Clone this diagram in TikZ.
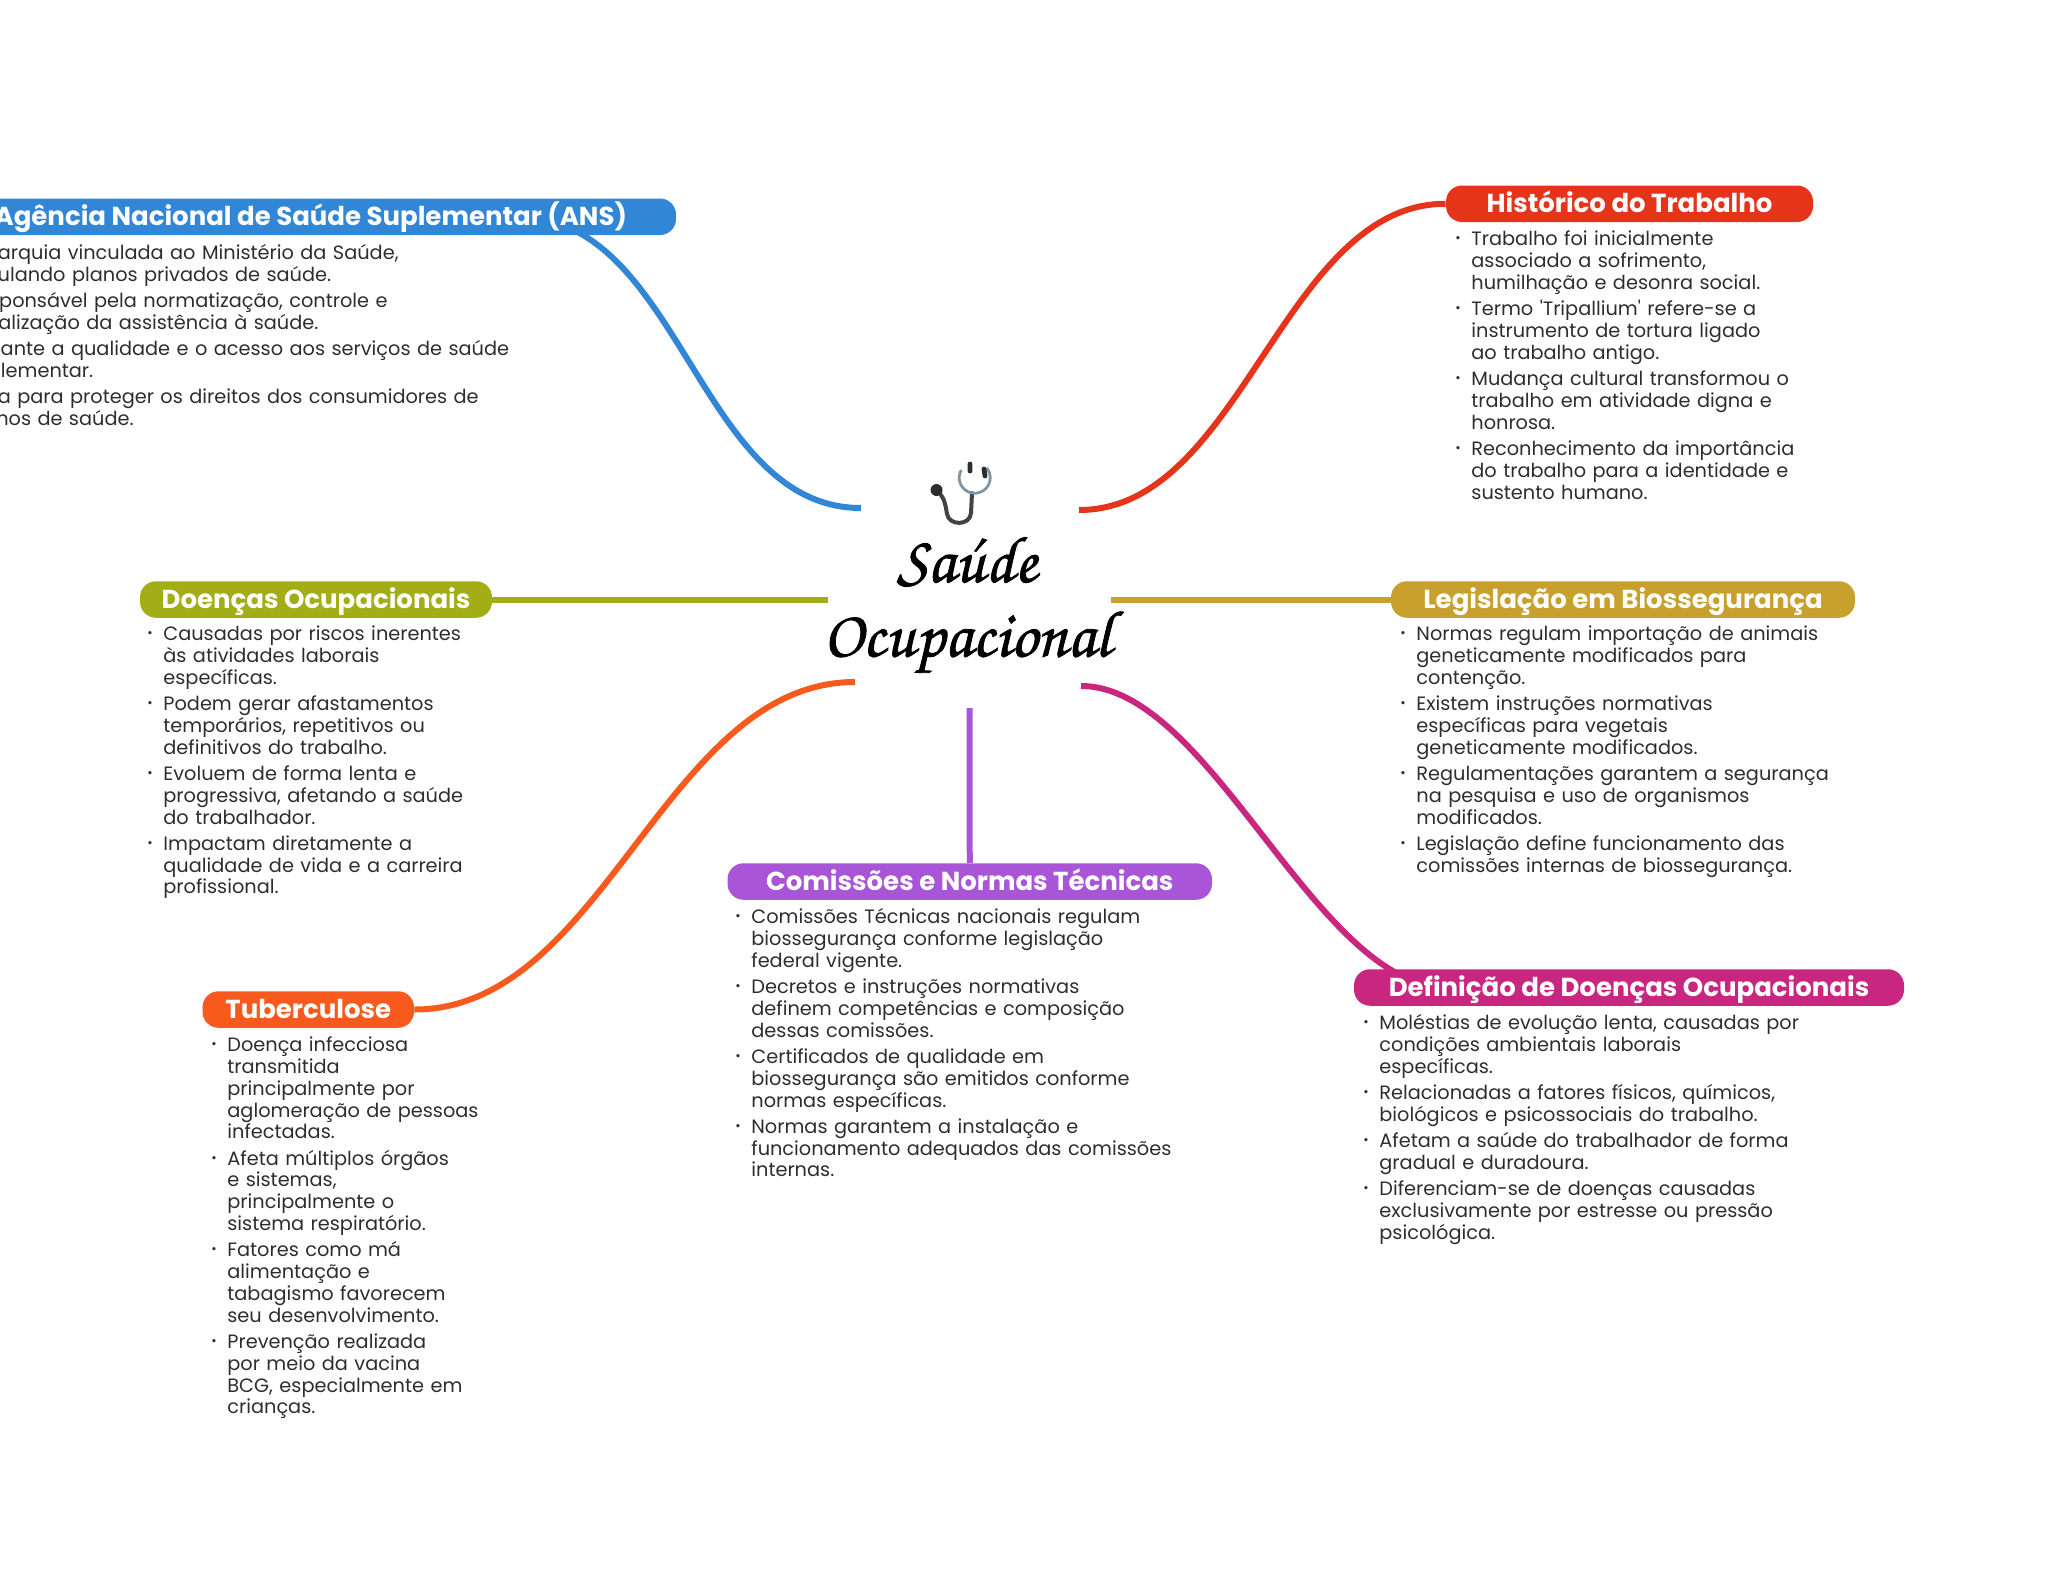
\documentclass[tikz,border=0pt]{standalone}
\usepackage{fontspec}
\setmainfont{Poppins}
\newfontfamily\titlefont[FakeBold=1.2]{TeX Gyre Chorus}
\usetikzlibrary{backgrounds}
\definecolor{ansblue}{HTML}{3286D6}
\definecolor{hisred}{HTML}{E5341A}
\definecolor{leggold}{HTML}{C8A02E}
\definecolor{dfnpink}{HTML}{C9267F}
\definecolor{compurple}{HTML}{A855D8}
\definecolor{tuborange}{HTML}{F85A1E}
\definecolor{doeolive}{HTML}{A3AD16}
\definecolor{bodygray}{HTML}{2D2D2D}
\definecolor{scopegray}{HTML}{7F95A3}
\newcommand{\itm}[1]{\noindent\makebox[8pt][l]{\raisebox{1.5pt}{\fontsize{6.5pt}{6.5pt}\selectfont\textbullet}}\parbox[t]{\dimexpr\linewidth-8pt}{\raggedright\strut #1\strut}\par\vspace{1.25pt}}
\tikzset{
  pill/.style={fill=#1,text=white,rounded corners=8pt,inner sep=0pt,minimum height=18.25pt,text height=10.6pt,text depth=1.6pt,font=\fontsize{13pt}{15pt}\selectfont\bfseries},
  listbox/.style={anchor=north west,inner sep=0pt,text width=300pt,text=bodygray,font=\fontsize{9.66pt}{10.9pt}\selectfont},
  branch/.style={line width=3pt,draw=#1}
}
\begin{document}
\begin{tikzpicture}[x=.5pt,y=-.5pt]
\useasboundingbox (0,0) rectangle (2048,1569);
\clip (0,0) rectangle (2048,1569);

\coordinate (Cans) at (861,508);
\coordinate (Chis) at (1079,510);
\coordinate (Cdoe) at (828,599.5);
\coordinate (Cleg) at (1111,599.5);
\coordinate (Ctub) at (855,682);
\coordinate (Cdfn) at (1081,686);
\coordinate (Ccom) at (969.5,708);
\coordinate (Ians) at (518,217);
\coordinate (Idfn) at (1446,987);

\node[align=center,font=\fontsize{33pt}{37.2pt}\selectfont\titlefont] (title) at (967,605) {Saúde\\Ocupacional};

\node[pill=ansblue,minimum width=365.2pt] (ans) at (310.8,216.75) {Agência Nacional de Saúde Suplementar (ANS)};
\node[pill=hisred,minimum width=183.5pt] (his) at (1629.5,203.75) {Histórico do Trabalho};
\node[pill=leggold,minimum width=232pt] (leg) at (1623,599.5) {Legislação em Biossegurança};
\node[pill=dfnpink,minimum width=275pt] (dfn) at (1629,987.5) {Definição de Doenças Ocupacionais};
\node[pill=compurple,minimum width=242.25pt] (com) at (969.75,881.5) {Comissões e Normas Técnicas};
\node[pill=tuborange,minimum width=105.75pt] (tub) at (308.25,1009.5) {Tuberculose};
\node[pill=doeolive,minimum width=176pt] (doe) at (316,599.5) {Doenças Ocupacionais};

\begin{scope}[on background layer]
\draw[branch=ansblue] (Cans) .. controls +(-163,0) and +(163,0) .. (Ians);
\draw[branch=hisred] (Chis) .. controls +(163,0) and +(-163,0) .. (his.west);
\draw[branch=doeolive] (Cdoe) -- (doe.east);
\draw[branch=leggold] (Cleg) -- (leg.west);
\draw[branch=tuborange] (Ctub) .. controls +(-190,0) and +(190,0) .. (tub.east);
\draw[branch=dfnpink] (Cdfn) .. controls +(130,0) and +(-130,0) .. (Idfn);
\draw[branch=compurple] (Ccom) -- (com.north);
\end{scope}

\node[listbox] (ansl) at (-51,244) {
\itm{Autarquia vinculada ao Ministério da Saúde,\\regulando planos privados de saúde.}
\itm{Responsável pela normatização, controle e\\fiscalização da assistência à saúde.}
\itm{Garante a qualidade e o acesso aos serviços de saúde\\suplementar.}
\itm{Atua para proteger os direitos dos consumidores de\\planos de saúde.}};

\node[listbox] (hisl) at (1455,230) {
\itm{Trabalho foi inicialmente\\associado a sofrimento,\\humilhação e desonra social.}
\itm{Termo \textquotesingle Tripallium\textquotesingle{} refere-se a\\instrumento de tortura ligado\\ao trabalho antigo.}
\itm{Mudança cultural transformou o\\trabalho em atividade digna e\\honrosa.}
\itm{Reconhecimento da importância\\do trabalho para a identidade e\\sustento humano.}};

\node[listbox] (legl) at (1400,625) {
\itm{Normas regulam importação de animais\\geneticamente modificados para\\contenção.}
\itm{Existem instruções normativas\\específicas para vegetais\\geneticamente modificados.}
\itm{Regulamentações garantem a segurança\\na pesquisa e uso de organismos\\modificados.}
\itm{Legislação define funcionamento das\\comissões internas de biossegurança.}};

\node[listbox] (dfnl) at (1363,1014) {
\itm{Moléstias de evolução lenta, causadas por\\condições ambientais laborais\\específicas.}
\itm{Relacionadas a fatores físicos, químicos,\\biológicos e psicossociais do trabalho.}
\itm{Afetam a saúde do trabalhador de forma\\gradual e duradoura.}
\itm{Diferenciam-se de doenças causadas\\exclusivamente por estresse ou pressão\\psicológica.}};

\node[listbox] (coml) at (735,908) {
\itm{Comissões Técnicas nacionais regulam\\biossegurança conforme legislação\\federal vigente.}
\itm{Decretos e instruções normativas\\definem competências e composição\\dessas comissões.}
\itm{Certificados de qualidade em\\biossegurança são emitidos conforme\\normas específicas.}
\itm{Normas garantem a instalação e\\funcionamento adequados das comissões\\internas.}};

\node[listbox] (tubl) at (211,1036) {
\itm{Doença infecciosa\\transmitida\\principalmente por\\aglomeração de pessoas\\infectadas.}
\itm{Afeta múltiplos órgãos\\e sistemas,\\principalmente o\\sistema respiratório.}
\itm{Fatores como má\\alimentação e\\tabagismo favorecem\\seu desenvolvimento.}
\itm{Prevenção realizada\\por meio da vacina\\BCG, especialmente em\\crianças.}};

\node[listbox] (doel) at (147,625) {
\itm{Causadas por riscos inerentes\\às atividades laborais\\específicas.}
\itm{Podem gerar afastamentos\\temporários, repetitivos ou\\definitivos do trabalho.}
\itm{Evoluem de forma lenta e\\progressiva, afetando a saúde\\do trabalhador.}
\itm{Impactam diretamente a\\qualidade de vida e a carreira\\profissional.}};

\draw[line width=2pt,draw=bodygray!90,line cap=round] (941,495) .. controls (945,500) and (946,508) .. (947,514) .. controls (949,526) and (970,526) .. (971,513) -- (972,493);
\draw[line width=1.4pt,draw=scopegray] (972,493) arc[start angle=100,end angle=-40,radius=15.5];
\draw[line width=1.4pt,draw=scopegray] (972,493) arc[start angle=100,end angle=210,radius=15.5];
\fill[draw=none,fill=bodygray] (936.5,490) circle[radius=6];
\draw[line width=2.4pt,draw=bodygray,line cap=round] (970,464) -- (970,471) (984,469) -- (985,476);
\end{tikzpicture}
\end{document}
